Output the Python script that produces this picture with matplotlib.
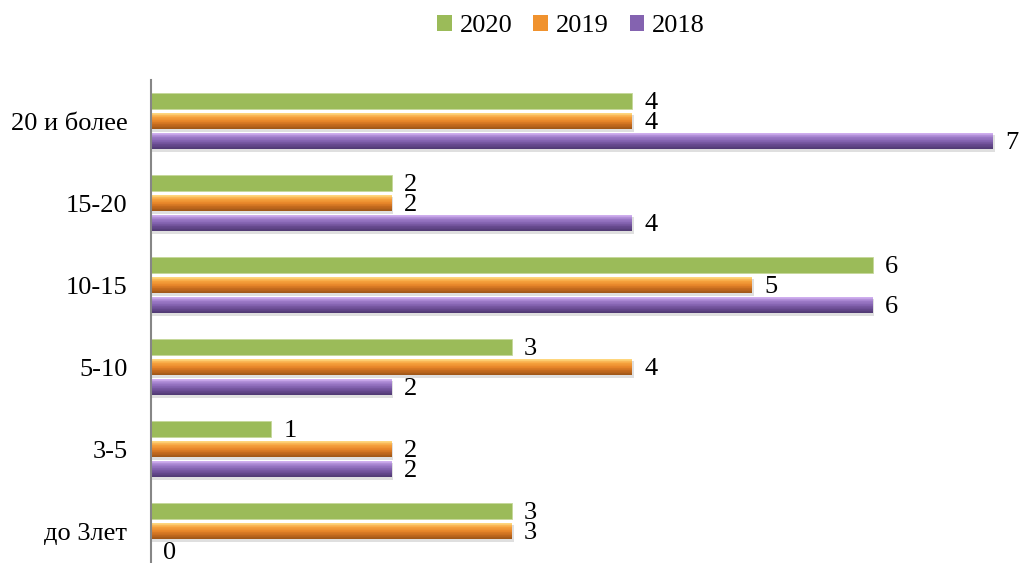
import matplotlib
matplotlib.use("Agg")
import matplotlib.pyplot as plt
import numpy as np
from matplotlib.colors import LinearSegmentedColormap
from matplotlib.patches import Patch

plt.rcParams['font.family'] = ['Liberation Serif', 'DejaVu Serif']

categories = ["до 3лет", "3-5", "5-10", "10-15", "15-20", "20 и более"]
series_names = ["2020", "2019", "2018"]
v2020 = [3, 1, 3, 6, 2, 4]
v2019 = [3, 2, 4, 5, 2, 4]
v2018 = [0, 2, 2, 6, 4, 7]

fig = plt.figure(figsize=(10.25, 5.63), dpi=100)
ax = fig.add_axes([151/1025, 0, 866/1025, 483/563])

y = np.arange(len(categories))
h = 0.205
off = 0.244
FS = 19

green = "#9BBB59"
orange_stops = ["#FFE08A", "#F7A540", "#E8862A", "#C46A1E", "#9A5418"]
purple_stops = ["#D9B8F5", "#A07ECB", "#8463B0", "#66498E", "#4E3870"]

# flat green bars (2020)
ax.barh(y + off, v2020, height=h, color=green, edgecolor="#C5D89A", linewidth=0.6)

def gradient_bars(ypos, vals, stops):
    cmap = LinearSegmentedColormap.from_list("g", stops)
    n = 24
    ax.barh(ypos - 0.03, [v + 0.015 if v > 0 else 0 for v in vals], height=h,
            color="#00000020", linewidth=0)
    for k in range(n):
        frac = k / (n - 1)
        yy = ypos + h / 2 - (k + 0.5) * h / n
        ax.barh(yy, vals, height=h / n * 1.05, color=cmap(frac), linewidth=0)

gradient_bars(y, v2019, orange_stops)
gradient_bars(y - off, v2018, purple_stops)

# data labels
for vals, dy in ((v2020, off), (v2019, 0), (v2018, -off)):
    for yi, v in zip(y, vals):
        ax.text(v + 0.1, yi + dy - 0.03, str(v), ha="left", va="center",
                fontsize=FS, color="black")

ax.set_xlim(0, 7.2)
ax.set_ylim(-0.39, 5.5)
ax.set_yticks(y)
ax.set_yticklabels(categories, fontsize=FS)
ax.tick_params(axis="y", length=0, pad=17)
ax.set_xticks([])
for s in ("top", "right", "bottom"):
    ax.spines[s].set_visible(False)
ax.spines["left"].set_color("#868686")
ax.spines["left"].set_linewidth(1.5)

handles = [Patch(facecolor=green, edgecolor="none"),
           Patch(facecolor="#F0922E", edgecolor="none"),
           Patch(facecolor="#8463B0", edgecolor="none")]
fig.legend(handles, series_names, loc="center", bbox_to_anchor=(571/1025, 1 - 26/563),
           ncol=3, frameon=False, fontsize=FS, handlelength=0.55, handleheight=0.55,
           handletextpad=0.3, columnspacing=0.8)

fig.savefig("out.png", dpi=100)
